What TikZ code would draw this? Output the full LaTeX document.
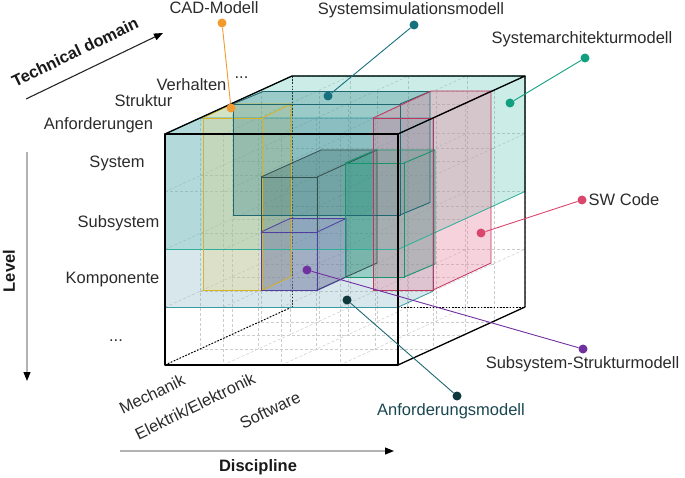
\documentclass[tikz,border=0pt]{standalone}
\usepackage{fontspec}
\setmainfont{Liberation Sans}
\usetikzlibrary{arrows.meta}
\definecolor{txt}{HTML}{2B2B2B}
\definecolor{archF}{HTML}{3DB8A6}
\definecolor{archL}{HTML}{2FB09A}
\definecolor{anfF}{HTML}{7FAFC0}
\definecolor{anfL}{HTML}{3A9AA4}
\definecolor{cadF}{HTML}{E6D27A}
\definecolor{cadL}{HTML}{D8B323}
\definecolor{simF}{HTML}{2A7F84}
\definecolor{simL}{HTML}{1F6872}
\definecolor{grF}{HTML}{3F6666}
\definecolor{grL}{HTML}{34504F}
\definecolor{puF}{HTML}{8C86C8}
\definecolor{puL}{HTML}{4F3FA0}
\definecolor{grnF}{HTML}{1FA07E}
\definecolor{grnL}{HTML}{17946A}
\definecolor{pkF}{HTML}{E88AA3}
\definecolor{pkL}{HTML}{C2335E}
\definecolor{cadD}{HTML}{F29A2E}
\definecolor{simD}{HTML}{17707E}
\definecolor{archD}{HTML}{11A07F}
\definecolor{swD}{HTML}{D9466E}
\definecolor{subD}{HTML}{7030A0}
\definecolor{anfD}{HTML}{0F383D}
\definecolor{anfT}{HTML}{1A4650}
% box fill: x1 y1 x2 y2 dx dy colour opacity
\newcommand{\bxfill}[8]{%
  \fill[#7, fill opacity=#8] (#1,#4) -- (#1,#2) -- ++(#5,#6) -- ++(#3-#1,0) -- ++(0,#4-#2) -- (#3,#4) -- cycle;}
% box edges: x1 y1 x2 y2 dx dy style
\newcommand{\bxedge}[7]{%
  \draw[#7] (#1,#2) rectangle (#3,#4);
  \draw[#7] (#1,#2) -- ++(#5,#6) -- ++(#3-#1,0) -- ++(0,#4-#2) -- (#3,#4);
  \draw[#7] (#3,#2) -- ++(#5,#6);}
\begin{document}
\begin{tikzpicture}[x=1pt,y=-1pt,
  lbl/.style={font=\fontsize{16.5}{19}\selectfont, text=txt, inner sep=0pt},
  axlbl/.style={font=\fontsize{16.5}{19}\selectfont\bfseries, text=black!90, inner sep=0pt},
  gridln/.style={gray!40, line width=0.5pt, dash pattern=on 3pt off 2pt},
  hidden/.style={black, line width=1pt, dash pattern=on 1.6pt off 1.6pt},
  cubeedge/.style={black, line width=1.3pt, line join=round},
  dot/.style={circle, fill=#1, inner sep=0pt, minimum size=9pt},
  leader/.style={draw=#1, line width=0.9pt},
  axarrow/.style={line width=1.1pt, -{Triangle[length=9pt,width=7pt,color=black]}}]
\useasboundingbox (0,0) rectangle (685,478);

% lattice grid
\foreach \dx/\dy in {0/0,35/-16,67/-30,96/-43,127/-58}{
  \foreach \yy in {134,191.75,249.5,307.25,365}
    \draw[gridln, shift={(\dx,\dy)}] (165,\yy) -- (398,\yy);
  \foreach \xx in {165,223.25,281.5,339.75,398}
    \draw[gridln, shift={(\dx,\dy)}] (\xx,134) -- (\xx,365);
}
\foreach \xx in {165,223.25,281.5,339.75,398}
  \foreach \yy in {134,191.75,249.5,307.25,365}
    \draw[gridln] (\xx,\yy) -- ++(127,-58);

% hidden cube edges
\draw[hidden] (292,76) -- (292,307);
\draw[hidden] (292,307) -- (525,307);
\draw[hidden] (165,365) -- (292,307);

% box fills
\bxfill{165}{134}{398}{249.5}{127}{-58}{archF}{0.27}
\bxfill{165}{134}{398}{307.25}{35}{-16}{anfF}{0.3}
\bxfill{203}{118}{262}{290.5}{29.5}{-14}{cadF}{0.3}
\bxfill{233}{104}{400}{215}{30}{-12.5}{simF}{0.3}
\bxfill{261}{177}{317}{290}{60}{-27}{grF}{0.3}
\bxfill{261}{232}{317}{290.5}{29}{-13.5}{puF}{0.3}
\bxfill{345}{163}{404}{277}{31}{-13}{grnF}{0.35}
\bxfill{373}{118}{433}{290}{58}{-27}{pkF}{0.38}

% box edges
\bxedge{165}{134}{398}{249.5}{127}{-58}{archL, line width=0.8pt}
\bxedge{165}{134}{398}{307.25}{35}{-16}{anfL, line width=0.8pt}
\bxedge{203}{118}{262}{290.5}{29.5}{-14}{cadL, line width=0.8pt}
\bxedge{233}{104}{400}{215}{30}{-12.5}{simL, line width=0.9pt}
\bxedge{261}{177}{317}{290}{60}{-27}{grL, line width=0.8pt}
\bxedge{261}{232}{317}{290.5}{29}{-13.5}{puL, line width=0.8pt}
\bxedge{345}{163}{404}{277}{31}{-13}{grnL, line width=0.9pt}
\bxedge{373}{118}{433}{290}{58}{-27}{pkL, line width=0.8pt}

% visible cube edges
\draw[cubeedge] (165,134) rectangle (398,365);
\draw[cubeedge] (165,134) -- (292,76) -- (525,76) -- (398,134);
\draw[cubeedge] (525,76) -- (525,307) -- (398,365);

% axes
\coordinate (tdA) at (26,99);
\coordinate (tdB) at (163,33);
\draw[axarrow, black!85] (tdA) -- (tdB);
\node[axlbl, rotate=25.6] (tdL) at (75,52) {Technical domain};
\coordinate (lvA) at (27,152);
\coordinate (lvB) at (27,381);
\draw[axarrow, gray!60] (lvA) -- (lvB);
\node[axlbl, rotate=90] (lvL) at (9,271) {Level};
\coordinate (dsA) at (120,451);
\coordinate (dsB) at (394,451);
\draw[axarrow, gray!60] (dsA) -- (dsB);
\node[axlbl, anchor=base] (dsL) at (258,471) {Discipline};

% level labels
\node[lbl, anchor=base] (lv1) at (117,168) {System};
\node[lbl, anchor=base] (lv2) at (118.5,227.5) {Subsystem};
\node[lbl, anchor=base] (lv3) at (112.5,283.5) {Komponente};
\node[lbl, anchor=base] (lv4) at (116,341) {...};

% technical domain labels
\node[lbl, anchor=base] (td1) at (98.5,129.5) {Anforderungen};
\node[lbl, anchor=base] (td2) at (143.5,106.5) {Struktur};
\node[lbl, anchor=base] (td3) at (191.5,90.5) {Verhalten};
\node[lbl, anchor=base] (td4) at (241.5,78.5) {...};

% discipline labels
\node[lbl, rotate=26] (ds1) at (152,394) {Mechanik};
\node[lbl, rotate=26] (ds2) at (195,406) {Elektrik/Elektronik};
\node[lbl, rotate=26] (ds3) at (270,410) {Software};

% callouts
\node[dot=cadD] (cadT) at (222,23) {};
\node[dot=cadD] (cadB) at (231,108) {};
\draw[leader=cadD] (cadT) -- (cadB);
\node[lbl, anchor=base] (cadN) at (214,14) {CAD-Modell};

\node[dot=simD] (simT) at (414,25) {};
\node[dot=simD] (simB) at (328,96) {};
\draw[leader=simD] (simT) -- (simB);
\node[lbl, anchor=base] (simN) at (411,15) {Systemsimulationsmodell};

\node[dot=archD] (archT) at (585,58) {};
\node[dot=archD] (archB) at (510,103) {};
\draw[leader=archD] (archT) -- (archB);
\node[lbl, anchor=base] (archN) at (582,44) {Systemarchitekturmodell};

\node[dot=swD] (swT) at (582,200) {};
\node[dot=swD] (swB) at (481,233) {};
\draw[leader=swD] (swT) -- (swB);
\node[lbl, anchor=base] (swN) at (624,206) {SW Code};

\node[dot=subD] (subT) at (583,349) {};
\node[dot=subD] (subB) at (307,270) {};
\draw[leader=subD] (subT) -- (subB);
\node[lbl, anchor=base] (subN) at (582.5,368.5) {Subsystem-Strukturmodell};

\node[dot=anfD] (anfT) at (457,396) {};
\node[dot=anfD] (anfB) at (347,300) {};
\draw[leader=simL] (anfT) -- (anfB);
\node[lbl, anchor=base, text=anfT] (anfN) at (451,415) {Anforderungsmodell};
\end{tikzpicture}
\end{document}
